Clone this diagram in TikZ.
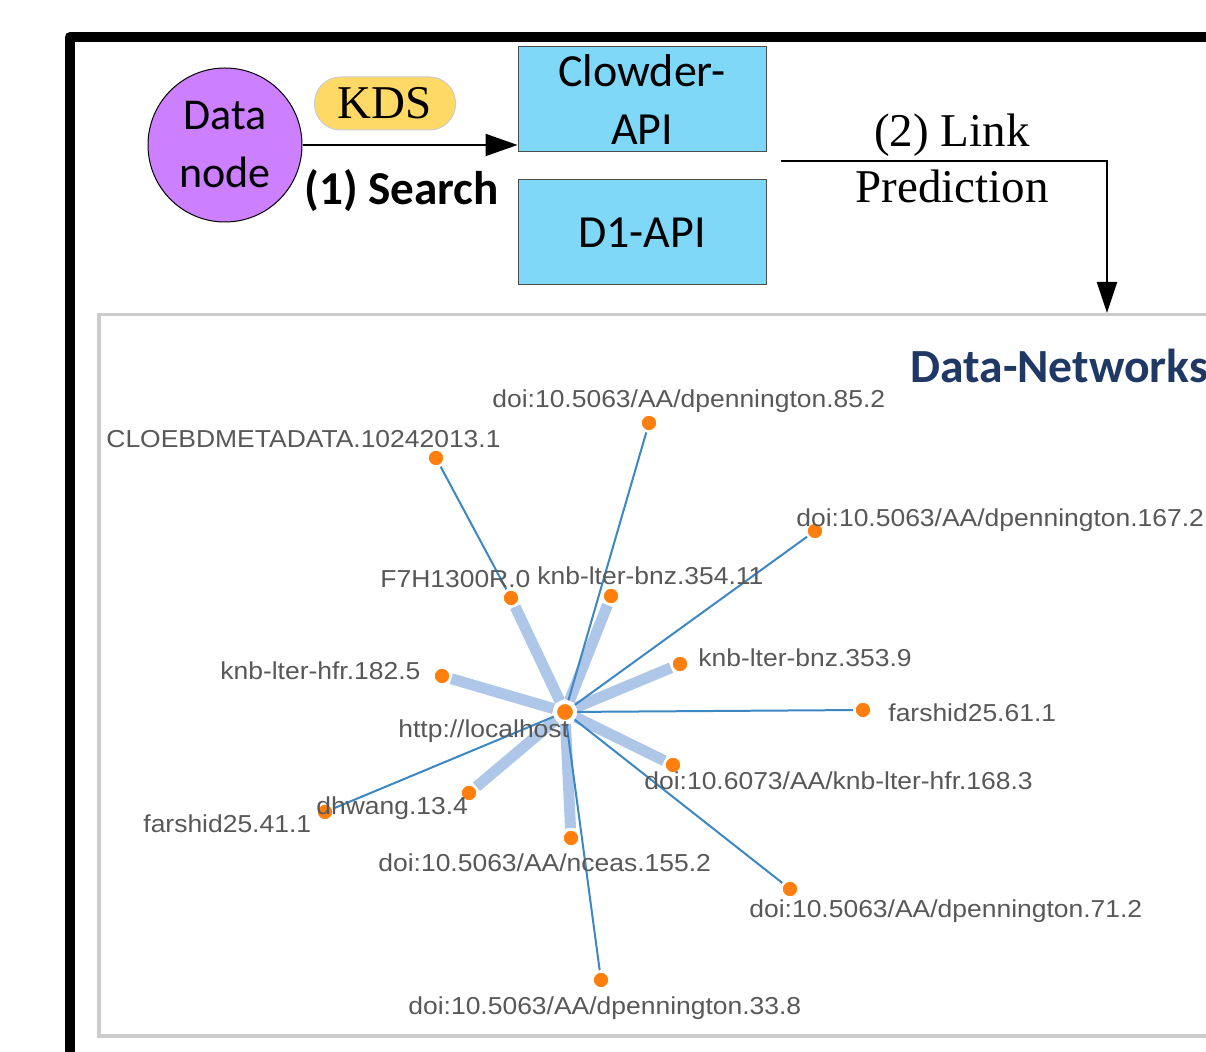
\documentclass[tikz,border=0pt]{standalone}
\usepackage{fontspec}
\usetikzlibrary{arrows.meta}
\newfontfamily\carlito{Carlito}
\newfontfamily\libserif{Liberation Serif}
\newfontfamily\libsans{Liberation Sans}
\definecolor{dnpurple}{RGB}{204,128,255}
\definecolor{apiblue}{RGB}{128,216,248}
\definecolor{kdsyellow}{RGB}{255,217,102}
\definecolor{dntitle}{RGB}{31,56,100}
\definecolor{dotorange}{RGB}{255,127,14}
\definecolor{thickblue}{RGB}{174,199,232}
\definecolor{thinblue}{RGB}{61,135,194}
\definecolor{lblgray}{RGB}{88,88,88}
\definecolor{framegray}{RGB}{204,204,204}
\newcommand{\glabel}[1]{\scalebox{1.08}[1]{#1}}
\tikzset{
  apibox/.style={draw=black!70, line width=0.5pt, fill=apiblue, minimum width=124pt, minimum height=52.5pt, inner sep=0pt, align=center, font=\carlito\fontsize{23}{29}\selectfont},
  gdot/.style={circle, fill=dotorange, draw=white, line width=1.2pt, minimum size=8.5pt, inner sep=0pt},
  cdot/.style={circle, fill=dotorange, draw=white, line width=2pt, minimum size=10pt, inner sep=0pt},
  glbl/.style={anchor=base west, inner sep=0pt, text=lblgray, font=\libsans\fontsize{12.25}{14}\selectfont},
  thickedge/.style={draw=thickblue, line width=5.5pt},
  thinedge/.style={draw=thinblue, line width=1pt},
  flowarrow/.style={draw=black, line width=1pt, -{Triangle[length=16pt, width=11pt]}},
}
\begin{document}
\begin{tikzpicture}[x=0.5pt,y=-0.5pt]
\useasboundingbox (0,0) rectangle (1206,1052);
\clip (0,0) rectangle (1206,1052);
\fill[white] (0,0) rectangle (1206,1052);
% outer black frame
\draw[line width=5pt, line join=round] (70,1120) -- (70,37) -- (1260,37);
% gray panel frame
\draw[draw=framegray, line width=1.8pt] (1260,314.5) -- (99,314.5) -- (99,1036) -- (1260,1036);

% top flow
\node[circle, draw=black, line width=0.5pt, fill=dnpurple, minimum size=77pt, inner sep=0pt, align=center, font=\carlito\fontsize{22}{29}\selectfont] (dn) at (225,145) {Data\\node};
\node[draw=black!20, line width=0.5pt, fill=kdsyellow, rounded corners=13pt, minimum width=70.5pt, minimum height=26.5pt, inner sep=0pt, font=\libserif\fontsize{23.5}{27}\selectfont] (kds) at (385,103.5) {KDS};
\node[apibox] (clowder) at (642,99.5) {Clowder-\\API};
\node[apibox] (d1) at (642,232.5) {D1-API};
\draw[flowarrow] (dn.east |- 0,145) -- (clowder.west |- 0,145);
\node[anchor=base west, inner sep=0pt, font=\carlito\bfseries\fontsize{23.6}{27}\selectfont] (search) at (304,205) {(1) Search};

\coordinate (lpstart) at (781,161);
\coordinate (lpend) at (1107,313);
\draw[line width=1pt, -{Triangle[length=15.5pt, width=10pt]}] (lpstart) -- (lpstart -| lpend) -- (lpend);
\node[align=center, inner sep=0pt, font=\libserif\fontsize{23.5}{28}\selectfont] (lp) at (952,158) {(2) Link\\Prediction};

\node[anchor=base west, inner sep=0pt, text=dntitle, font=\carlito\bfseries\fontsize{23.8}{27}\selectfont] (dntitle) at (910,383) {Data-Networks};

% graph nodes
\node[cdot] (c) at (565,712) {};
\node[gdot] (cloe) at (436,458) {};
\node[gdot] (d85) at (649,423) {};
\node[gdot] (d167) at (815,531) {};
\node[gdot] (f7h) at (511,598) {};
\node[gdot] (bnz354) at (611,596) {};
\node[gdot] (bnz353) at (680,664) {};
\node[gdot] (hfr182) at (442,676) {};
\node[gdot] (fa61) at (863,710) {};
\node[gdot] (hfr168) at (673,765) {};
\node[gdot] (dhw) at (469,793) {};
\node[gdot] (fa41) at (325,812) {};
\node[gdot] (nceas) at (571,838) {};
\node[gdot] (d71) at (790,889) {};
\node[gdot] (d33) at (601,980) {};

% edges
\path[thickedge] (c) -- (f7h);
\path[thickedge] (c) -- (bnz354);
\path[thickedge] (c) -- (bnz353);
\path[thickedge] (c) -- (hfr182);
\path[thickedge] (c) -- (hfr168);
\path[thickedge] (c) -- (dhw);
\path[thickedge] (c) -- (nceas);
\path[thinedge] (cloe) -- (f7h);
\path[thinedge] (c) -- (d85);
\path[thinedge] (c) -- (d167);
\path[thinedge] (c) -- (fa61);
\path[thinedge] (c) -- (d71);
\path[thinedge] (c) -- (d33);
\path[thinedge] (c) -- (fa41);

% dots on top of edges
\node[cdot] at (c) {};
\foreach \n in {cloe,d85,d167,f7h,bnz354,bnz353,hfr182,fa61,hfr168,dhw,fa41,nceas,d71,d33} {
  \node[gdot] at (\n) {};
}

% labels on top
\node[glbl] (lcloe) at (106,448) {\glabel{CLOEBDMETADATA.10242013.1}};
\node[glbl] (ld85) at (492,408) {\glabel{doi:10.5063/AA/dpennington.85.2}};
\node[glbl] (ld167) at (796,527) {\glabel{doi:10.5063/AA/dpennington.167.2}};
\node[glbl] (lf7h) at (380,588) {\glabel{F7H1300R.0}};
\node[glbl] (lbnz354) at (537,585) {\glabel{knb-lter-bnz.354.11}};
\node[glbl] (lbnz353) at (698,667) {\glabel{knb-lter-bnz.353.9}};
\node[glbl] (lhfr182) at (220,680) {\glabel{knb-lter-hfr.182.5}};
\node[glbl] (lfa61) at (888,722) {\glabel{farshid25.61.1}};
\node[glbl] (lc) at (398,738) {\glabel{http://localhost}};
\node[glbl] (lhfr168) at (644,790) {\glabel{doi:10.6073/AA/knb-lter-hfr.168.3}};
\node[glbl] (ldhw) at (316,815) {\glabel{dhwang.13.4}};
\node[glbl] (lfa41) at (143,833) {\glabel{farshid25.41.1}};
\node[glbl] (lnceas) at (378,872) {\glabel{doi:10.5063/AA/nceas.155.2}};
\node[glbl] (ld71) at (749,918) {\glabel{doi:10.5063/AA/dpennington.71.2}};
\node[glbl] (ld33) at (408,1015) {\glabel{doi:10.5063/AA/dpennington.33.8}};
\end{tikzpicture}
\end{document}
